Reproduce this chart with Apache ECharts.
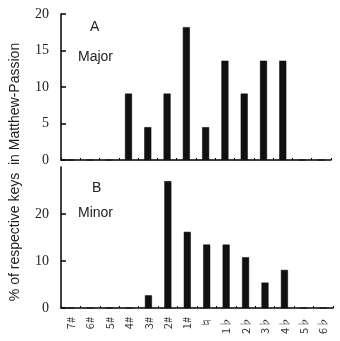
<!DOCTYPE html>
<html><head><meta charset="utf-8">
<script src="https://cdn.jsdelivr.net/npm/echarts@6/dist/echarts.min.js"></script>
<style>html,body{margin:0;padding:0;background:#fff}#c{width:340px;height:341px}</style>
</head><body><div id="c"></div>
<script>
const categories = ['7#','6#','5#','4#','3#','2#','1#','\u266E','1\u266D','2\u266D','3\u266D','4\u266D','5\u266D','6\u266D'];
const majorValues = [0,0,0,9.1,4.5,9.1,18.2,4.5,13.6,9.1,13.6,13.6,0,0];
const minorValues = [0,0,0,0,2.7,27.0,16.2,13.5,13.5,10.8,5.4,8.1,0,0];
const majorTicks = [0,5,10,15,20];
const minorTicks = [0,10,20];

const chart = echarts.init(document.getElementById('c'), null, {renderer:'canvas'});
const axisLine = {show:true, lineStyle:{color:'#000', width:1.5}};
const yLabel = {fontFamily:'Liberation Serif', fontSize:14, color:'#222', margin:12};
chart.setOption({
  animation:false,
  backgroundColor:'#fff',
  grid:[
    {left:61, right:9, top:14, height:146},
    {left:61, right:7, top:167, height:141}
  ],
  xAxis:[
    {type:'category', gridIndex:0, data:categories, boundaryGap:true,
     axisLine:axisLine, axisTick:{show:true, inside:true, length:2, lineStyle:{color:'#000'}},
     axisLabel:{show:false}, splitLine:{show:false}},
    {type:'category', gridIndex:1, data:categories, boundaryGap:true,
     axisLine:axisLine, axisTick:{show:true, inside:true, length:2, lineStyle:{color:'#000'}},
     axisLabel:{rotate:90, fontFamily:'Noto Sans CJK SC', fontSize:11, color:'#333', margin:9, interval:0},
     splitLine:{show:false}}
  ],
  yAxis:[
    {type:'value', gridIndex:0, min:majorTicks[0], max:majorTicks[majorTicks.length-1], interval:5,
     axisLine:axisLine, axisTick:{show:true, inside:true, length:5, lineStyle:{color:'#000', width:1.5}},
     axisLabel:yLabel, splitLine:{show:false}},
    {type:'value', gridIndex:1, min:minorTicks[0], max:30, interval:10,
     axisLine:axisLine, axisTick:{show:true, inside:true, length:5, lineStyle:{color:'#000', width:1.5}},
     axisLabel:Object.assign({}, yLabel, {showMaxLabel:false}), splitLine:{show:false}}
  ],
  series:[
    {type:'bar', xAxisIndex:0, yAxisIndex:0, data:majorValues, barWidth:7,
     itemStyle:{color:'#111', borderColor:'#000', borderWidth:0.5}},
    {type:'bar', xAxisIndex:1, yAxisIndex:1, data:minorValues, barWidth:7,
     itemStyle:{color:'#111', borderColor:'#000', borderWidth:0.5}}
  ],
  graphic:[
    {type:'text', left:90, top:20, style:{text:'A', font:'14px "Liberation Sans"', fill:'#222'}},
    {type:'text', left:78, top:50, style:{text:'Major', font:'14px "Liberation Sans"', fill:'#222'}},
    {type:'text', left:92, top:181, style:{text:'B', font:'14px "Liberation Sans"', fill:'#222'}},
    {type:'text', left:78, top:206, style:{text:'Minor', font:'14px "Liberation Sans"', fill:'#222'}},
    {type:'text', x:15, y:172, rotation:Math.PI/2,
     style:{text:'% of respective keys  in Matthew-Passion', font:'14px "Liberation Sans"', fill:'#222', align:'center', verticalAlign:'middle'}}
  ]
});
</script></body></html>
